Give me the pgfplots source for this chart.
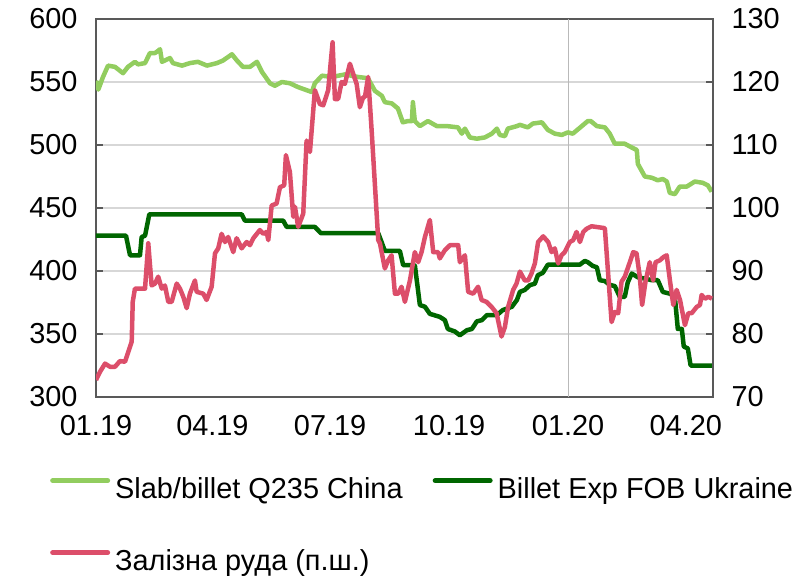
\documentclass[border=0pt]{standalone}
\usepackage{fontspec}
\setmainfont{Liberation Sans}
\usepackage{pgfplots}
\pgfplotsset{compat=1.18}
\definecolor{lgreen}{RGB}{146,205,95}
\definecolor{dgreen}{RGB}{0,102,0}
\definecolor{ore}{RGB}{220,78,106}
\definecolor{framegray}{RGB}{89,89,89}
\definecolor{gridgray}{RGB}{215,215,215}
\begin{document}
\begin{tikzpicture}
\path[use as bounding box] (-96bp,-179bp) rectangle (710bp,397bp);
\pgfplotsset{
  common/.style={
    scale only axis, width=617bp, height=378bp, at={(0,0)}, anchor=south west,
    xmin=0, xmax=477,
    axis line style={framegray, line width=1.6bp},
    tick align=inside, major tick length=7bp,
    ytick style={framegray, line width=1.6bp},
    tick label style={font=\fontsize{29}{34}\selectfont},
    /pgf/number format/assume math mode=true,
  }
}
\begin{axis}[common,
  ymin=300, ymax=600,
  xtick={0,90,181,273,365,456},
  xticklabels={01.19,04.19,07.19,10.19,01.20,04.20},
  xtick style={draw=none},
  xtick pos=bottom, ytick pos=left,
  extra x ticks={365}, extra x tick labels={},
  extra x tick style={grid=major, tick style={draw=none}},
  x grid style={gray!55, line width=1bp},
  ytick={300,350,...,600},
  ymajorgrids, y grid style={gridgray, line width=1.2bp},
  yticklabel style={xshift=-15bp},
  xticklabel style={yshift=-15bp},
  legend columns=2,
  legend image code/.code={\draw[#1, line width=5bp, line cap=round] (0bp,10bp) -- (55bp,10bp);},
  legend style={draw=none, fill=none, font=\fontsize{29}{34}\selectfont,
    at={(axis description cs:-0.0746,-0.2116)}, anchor=north west, inner sep=0pt,
    row sep=45bp,
    nodes={inner sep=0pt, text height=21bp, text depth=6bp},
    /tikz/every odd column/.style={column sep=5bp},
    /tikz/every even column/.style={column sep=30bp}},
  legend cell align=left,
]
\addplot[lgreen, line width=4.5bp, line join=round] coordinates {
(0,551)(1.8,544)(5.4,554)(9.3,563)(14.7,562)(20.9,557)(24.7,562)(30.1,566)(32.5,564)
(37.9,565)(41.7,573)(45.6,573)(47.1,574)(49.5,576)(51,566)(57.2,569)(59.5,565)
(66.5,563)(72.6,565)(78.8,566)(85.8,563)(93.5,565)(98.1,567)(105.1,572)(109,567)
(113.6,562)(119,562)(124.4,566)(128.3,558)(134.5,549)(138.3,547)(143.7,550)(149.9,549)
(156.1,546)(166.9,542)(169.2,549)(174.7,555)(182.4,554)(192.4,556)(202.5,554)(210.2,553)
(215.6,543)(221,539)(223.3,534)(228.7,533)(233.4,529)(237.2,518)(241.1,519)(244.2,519)
(245,534)(246.5,519)(250.4,515)(256.6,519)(263.5,515)(271.3,515)(279.8,514)(282.8,509)
(285.2,513)(289,506)(294.4,505)(300.6,506)(306,509)(309.9,513)(312.2,508)(316.1,507)
(318.4,513)(325.4,515)(327.7,516)(333.8,514)(337.7,517)(344.7,518)(349.3,512)(354.7,509)
(360.1,508)(364.8,510)(368.6,509)(375.6,515)(380.2,519)(382.5,519)(387.2,515)(393.4,514)
(397.2,509)(401.1,501)(408.8,501)(414.2,498)(418.1,496)(418.9,485)(424.3,475)(429.7,474)
(434.3,472)(438.2,473)(441.3,471)(443.6,462)(447.5,461)(451.3,467)(456.7,467)(462.9,471)
(469.1,470)(473,468)(476,463)
};
\addlegendentry{Slab/billet Q235 China}
\addplot[dgreen, line width=4.5bp, line join=round] coordinates {
(0,428)(23.2,428)(26.3,412.5)(34,412.5)(35.3,427)(37.9,428)(41.2,445)(112.6,445)
(115.1,440)(144.7,440)(147.4,435)(169.2,435)(173.9,430)(218.2,430)(223.3,416)(234.9,416)
(237.5,404.6)(246.5,404.6)(250.4,373)(254.3,371.6)(258.1,366)(265.8,363.6)(269.7,361)
(272,354)(277.4,352)(281.3,349)(286.7,353)(290.6,354)(294.4,360)(298.3,361)(302.2,365)
(309.9,365)(314.5,369)(321.5,371.6)(325.4,377)(327.7,383.4)(331.5,385)(335.4,388.7)
(339.3,390)(341.6,396.7)(345.4,398.5)(349.3,405)(374,405)(377.9,408)(380.2,407)
(384.1,404)(387.2,403)(389.5,392.7)(393.4,392)(397.2,389)(401.1,388)(404.9,379.5)
(408.8,379.5)(411.1,391)(414.2,398)(418.9,395)(424.3,394)(429.7,392.7)(434.3,392.7)
(438.2,383.4)(443.6,382)(447.5,379.5)(449.8,354)(452.9,354)(454.4,340)(457.5,338.6)
(459.7,325)(476.5,325)
};
\addlegendentry{Billet Exp FOB Ukraine}
\addlegendimage{ore}
\addlegendentry{Залізна руда (п.ш.)}
\end{axis}
\begin{axis}[common,
  ymin=70, ymax=130,
  axis x line=none, axis y line*=right,
  ytick={70,80,...,130},
  yticklabel style={xshift=15bp},
]
\addplot[ore, line width=4.5bp, line join=round] coordinates {
(0,72.7)(3.1,74)(7,75.3)(10.8,74.8)(14.7,74.8)(18.5,75.7)(22.4,75.6)(25,77.2)(27.6,78.8)
(28.4,85.1)(30.1,87.2)(37.9,87.2)(40.4,94.4)(43,87.7)(45.6,88)(48.1,89.1)(50.8,87.2)
(53.3,87.7)(55.9,85.1)(58.5,85.1)(62.4,88)(64.9,87.2)(67.5,85.9)(70.1,84.1)(72.6,86.4)
(76.5,88.5)(77.8,86.7)(82.9,86.4)(85.5,85.4)(89.4,87.5)(92,92.8)(94.5,93.6)(97.1,95.9)
(99.7,94.6)(102.2,95.4)(106.1,93)(108.7,95.2)(112.6,93.6)(116.5,94.6)(119,94.1)
(121.6,95.2)(126.7,96.5)(129.3,95.9)(131.9,96.2)(133.2,94.9)(135.8,100.4)(139.6,100.7)
(142.2,103.3)(145.5,103.6)(146.8,108.4)(149.9,105.7)(152.5,98.6)(153.8,100.2)(156.3,97)
(160.2,99.1)(162.8,110.7)(165.4,108.9)(169.2,118.7)(173.1,116.5)(175.7,116.3)(179.5,118.7)
(182.9,126.3)(184.7,117.3)(187.2,117.3)(189.9,120)(192.4,119.7)(196.3,122.9)(198.8,121.3)
(201.5,119.7)(204,116)(206.6,117.6)(207.9,117.6)(210.4,120.8)(213.1,112.3)(218.2,94.9)
(219.5,94.4)(223.3,90.4)(225.9,91.7)(228.5,92.5)(231.1,86.4)(233.6,86.4)(236.2,87.5)
(238.8,85.1)(242.7,88.5)(246.5,93)(249.1,91.4)(251.7,93)(254.3,95.4)(258.1,98.1)
(260.7,93)(264.5,93)(265.8,92)(269.7,93.3)(273.6,94.1)(280,94.1)(281.3,91.4)(285.2,92.5)
(287.7,86.7)(291.6,86.4)(295.4,87.5)(298.1,85.4)(301.9,85.1)(305.8,84.3)(309.7,83.3)
(313.5,79.6)(316.1,81.1)(318.6,84.3)(322.5,87)(325.1,88)(327.7,89.9)(331.5,88.5)
(334.1,88.5)(336.7,89.6)(339.3,91.2)(341.8,94.6)(345.7,95.5)(349.6,94.6)(352.2,93)
(354.7,93.6)(357.3,91.2)(359.9,92.5)(362.4,93)(366.3,94.6)(368.9,94.9)(371.5,96.2)
(374.1,94.6)(376.7,96.2)(379.3,96.7)(383.1,97.1)(393.4,96.8)(398.6,81.9)(401.2,83.5)
(403.7,83.3)(406.3,88.3)(408.8,89.1)(412.7,91.4)(415.3,93)(417.9,92.8)(420.4,89.1)
(422.2,84.6)(424.8,88.3)(428.1,91.4)(430.7,88.5)(432.6,91.4)(436,91.7)(438.6,92.2)
(441.2,92.5)(443.7,88.5)(446.3,84.6)(448.9,87)(451.5,85.4)(455.3,81.4)(457.9,83.3)
(460.5,83.3)(464.4,84.3)(466.9,84.6)(468.2,86.2)(470.8,85.6)(473.4,85.9)(476.2,85.6)
};
\end{axis}
\end{tikzpicture}
\end{document}
